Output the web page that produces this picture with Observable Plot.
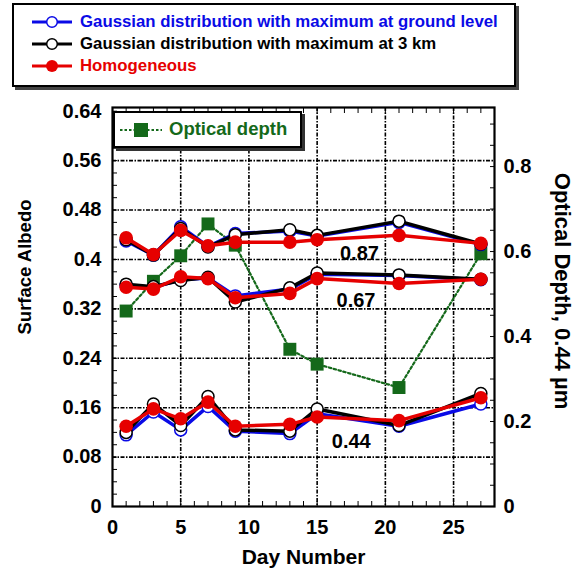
<!DOCTYPE html>
<html>
<head>
<meta charset="utf-8">
<script src="https://cdn.jsdelivr.net/npm/d3@7"></script>
<script src="https://cdn.jsdelivr.net/npm/@observablehq/plot@0.6"></script>
<style>
  html, body { margin: 0; padding: 0; background: #fff; }
  body { font-family: "Liberation Sans", Arial, Helvetica, sans-serif; font-weight: bold; }
  #wrap { position: relative; width: 581px; height: 572px; overflow: hidden; }
  #legend { position: absolute; left: 12px; top: 3px; width: 500px; height: 74px;
    border: 2px solid #000; box-shadow: 3px 3px 0 #444; background: #fff; padding-top: 6px; box-sizing: content-box; }
  .row { position: relative; height: 22px; line-height: 22px; font-size: 16.8px; white-space: nowrap; }
  .row svg { position: absolute; left: 18px; top: 3px; }
  .row span { position: absolute; left: 66px; top: 0; }
  #chart { position: absolute; left: 0; top: 88px; }
  #odlegend { position: absolute; left: 113px; top: 111px; width: 185px; height: 33px;
    border: 2px solid #000; box-shadow: 3px 3px 0 #333; background: #fff; }
  #odlegend svg { position: absolute; left: 5px; top: 8px; }
  #odlegend span { position: absolute; left: 54px; top: 5px; font-size: 18.5px; color: #14691a; }
</style>
</head>
<body>
<div id="wrap">
  <div id="legend"></div>
  <div id="chart"></div>
  <div id="odlegend"></div>
</div>
<script>
// ---- data ----
const days = [1, 3, 5, 7, 9, 13, 15, 21, 27];

// Surface albedo, Gaussian distribution with maximum at ground level
const ground087 = [0.430, 0.407, 0.453, 0.421, 0.442, 0.446, 0.438, 0.460, 0.424];
const ground067 = [0.358, 0.355, 0.367, 0.370, 0.341, 0.352, 0.376, 0.374, 0.367];
const ground044 = [0.116, 0.153, 0.124, 0.162, 0.122, 0.118, 0.150, 0.130, 0.166];
// Gaussian distribution with maximum at 3 km
const km3_087 = [0.432, 0.407, 0.450, 0.420, 0.440, 0.448, 0.439, 0.462, 0.425];
const km3_067 = [0.360, 0.356, 0.366, 0.371, 0.331, 0.354, 0.378, 0.375, 0.368];
const km3_044 = [0.120, 0.166, 0.131, 0.178, 0.124, 0.122, 0.158, 0.131, 0.183];
// Homogeneous
const homog087 = [0.435, 0.408, 0.447, 0.422, 0.428, 0.428, 0.432, 0.439, 0.426];
const homog067 = [0.355, 0.352, 0.372, 0.369, 0.338, 0.345, 0.369, 0.361, 0.368];
const homog044 = [0.130, 0.158, 0.142, 0.169, 0.130, 0.133, 0.145, 0.139, 0.176];

// Optical depth at 0.44 µm (right axis)
const opticalDepth = [0.46, 0.53, 0.59, 0.665, 0.615, 0.37, 0.335, 0.28, 0.595];

const bands = ["0.87", "0.67", "0.44"];
const bandLabels = [
  {label: "0.87", day: 18.1, albedo: 0.41},
  {label: "0.67", day: 17.85, albedo: 0.334},
  {label: "0.44", day: 17.5, albedo: 0.105}
];

const seriesNames = [
  "Gaussian distribution with maximum at ground level",
  "Gaussian distribution with maximum at 3 km",
  "Homogeneous"
];
const seriesColors = ["#0a0ae6", "#000000", "#e60000"];

const xTicks = [0, 5, 10, 15, 20, 25];
const xMinorTicks = d3.range(0, 29, 1);
const yTicks = [0, 0.08, 0.16, 0.24, 0.32, 0.4, 0.48, 0.56, 0.64];
const yTickLabels = ["0", "0.08", "0.16", "0.24", "0.32", "0.4", "0.48", "0.56", "0.64"];
const yMinorTicks = d3.range(0, 0.645, 0.02);
const odTicks = [0, 0.2, 0.4, 0.6, 0.8];
const odTickLabels = ["0", "0.2", "0.4", "0.6", "0.8"];
const odMinorTicks = d3.range(0, 0.94, 0.05);

const yMax = 0.646;
const odMax = 0.939;
const k = yMax / odMax;

const xTitle = "Day Number";
const yTitle = "Surface Albedo";
const y2Title = "Optical Depth, 0.44 µm";
const odName = "Optical depth";
const odColor = "#14691a";

// ---- build tables ----
function rows(vals, band) { return days.map((d, i) => ({day: d, albedo: vals[i], band})); }
const groundRows = [...rows(ground087, bands[0]), ...rows(ground067, bands[1]), ...rows(ground044, bands[2])];
const km3Rows = [...rows(km3_087, bands[0]), ...rows(km3_067, bands[1]), ...rows(km3_044, bands[2])];
const homogRows = [...rows(homog087, bands[0]), ...rows(homog067, bands[1]), ...rows(homog044, bands[2])];
const odRows = days.map((d, i) => ({day: d, od: opticalDepth[i]}));

const gridDash = "4,1.5,1.5,1.5";
const font = "'Liberation Sans', Arial, Helvetica, sans-serif";

const chart = Plot.plot({
  width: 581,
  height: 484,
  marginTop: 19,
  marginBottom: 66,
  marginLeft: 112,
  marginRight: 87,
  style: {fontFamily: font, fontWeight: "bold", fontSize: "20px", color: "#000", background: "transparent", overflow: "visible"},
  x: {domain: [0, 28], label: null},
  y: {domain: [0, yMax], label: null},
  marks: [
    Plot.gridX({ticks: xTicks.slice(1), stroke: "#000", strokeOpacity: 1, strokeWidth: 1.6, strokeDasharray: gridDash}),
    Plot.gridY({ticks: yTicks.slice(1, -1), stroke: "#000", strokeOpacity: 1, strokeWidth: 1.6, strokeDasharray: gridDash}),
    // minor inward ticks on all four sides
    Plot.axisX({anchor: "bottom", ticks: xMinorTicks, tickSize: -5, tickFormat: () => "", label: null}),
    Plot.axisX({anchor: "top", ticks: xMinorTicks, tickSize: -5, tickFormat: () => "", label: null}),
    Plot.axisY({anchor: "left", ticks: yMinorTicks, tickSize: -5, tickFormat: () => "", label: null}),
    Plot.axisY({anchor: "right", ticks: odMinorTicks.map(v => v * k), tickSize: -5, tickFormat: () => "", label: null}),
    // labelled axes
    Plot.axisX({anchor: "bottom", ticks: xTicks, tickSize: 0, tickPadding: 13, label: null}),
    Plot.axisY({anchor: "left", ticks: yTicks, tickSize: 0, tickPadding: 11, label: null,
      tickFormat: d => yTickLabels[yTicks.indexOf(d)]}),
    Plot.axisY({anchor: "right", ticks: odTicks.map(v => v * k), tickSize: 0, tickPadding: 9, label: null,
      tickFormat: (d, i) => odTickLabels[i]}),
    // axis titles
    Plot.text([xTitle], {frameAnchor: "bottom", dy: 57, text: d => d, fontSize: 21, textAnchor: "middle"}),
    Plot.text([yTitle], {frameAnchor: "left", dx: -87, dy: -40, rotate: -90, text: d => d, fontSize: 18.5, textAnchor: "middle"}),
    Plot.text([y2Title], {frameAnchor: "right", dx: 68, dy: -16, rotate: 90, text: d => d, fontSize: 22, textAnchor: "middle"}),
    // optical depth
    Plot.line(odRows, {x: "day", y: d => d.od * k, stroke: odColor, strokeWidth: 2.2, strokeDasharray: "2.5,2.5"}),
    Plot.dot(odRows, {x: "day", y: d => d.od * k, symbol: "square", r: 7.3, fill: odColor, stroke: "none"}),
    // albedo series
    Plot.line(groundRows, {x: "day", y: "albedo", z: "band", stroke: seriesColors[0], strokeWidth: 3.5}),
    Plot.dot(groundRows, {x: "day", y: "albedo", r: 6, fill: "#fff", stroke: seriesColors[0], strokeWidth: 1.5}),
    Plot.line(km3Rows, {x: "day", y: "albedo", z: "band", stroke: seriesColors[1], strokeWidth: 3.5}),
    Plot.dot(km3Rows, {x: "day", y: "albedo", r: 6, fill: "#fff", stroke: seriesColors[1], strokeWidth: 1.5}),
    Plot.line(homogRows, {x: "day", y: "albedo", z: "band", stroke: seriesColors[2], strokeWidth: 3.5}),
    Plot.dot(homogRows, {x: "day", y: "albedo", r: 6.8, fill: seriesColors[2], stroke: "none"}),
    // band labels
    Plot.text(bandLabels, {x: "day", y: "albedo", text: "label", fontSize: 20}),
    Plot.frame({stroke: "#000", strokeWidth: 2.2})
  ]
});
document.getElementById("chart").appendChild(chart);

// ---- legends ----
const legend = document.getElementById("legend");
seriesNames.forEach((name, i) => {
  const row = document.createElement("div");
  row.className = "row";
  const filled = i === 2;
  row.innerHTML = `<svg width="40" height="16" viewBox="0 0 40 16">
      <line x1="0" y1="8" x2="40" y2="8" stroke="${seriesColors[i]}" stroke-width="3"/>
      <circle cx="20" cy="8" r="${filled ? 6 : 5.3}" fill="${filled ? seriesColors[i] : "#fff"}" stroke="${filled ? "none" : seriesColors[i]}" stroke-width="1.5"/>
    </svg><span style="color:${seriesColors[i]}">${name}</span>`;
  legend.appendChild(row);
});
const odl = document.getElementById("odlegend");
odl.innerHTML = `<svg width="42" height="18" viewBox="0 0 42 18">
    <line x1="0" y1="9" x2="42" y2="9" stroke="${odColor}" stroke-width="2.2" stroke-dasharray="2.5,2"/>
    <rect x="14" y="2" width="14" height="14" fill="${odColor}"/>
  </svg><span>${odName}</span>`;
</script>
</body>
</html>
